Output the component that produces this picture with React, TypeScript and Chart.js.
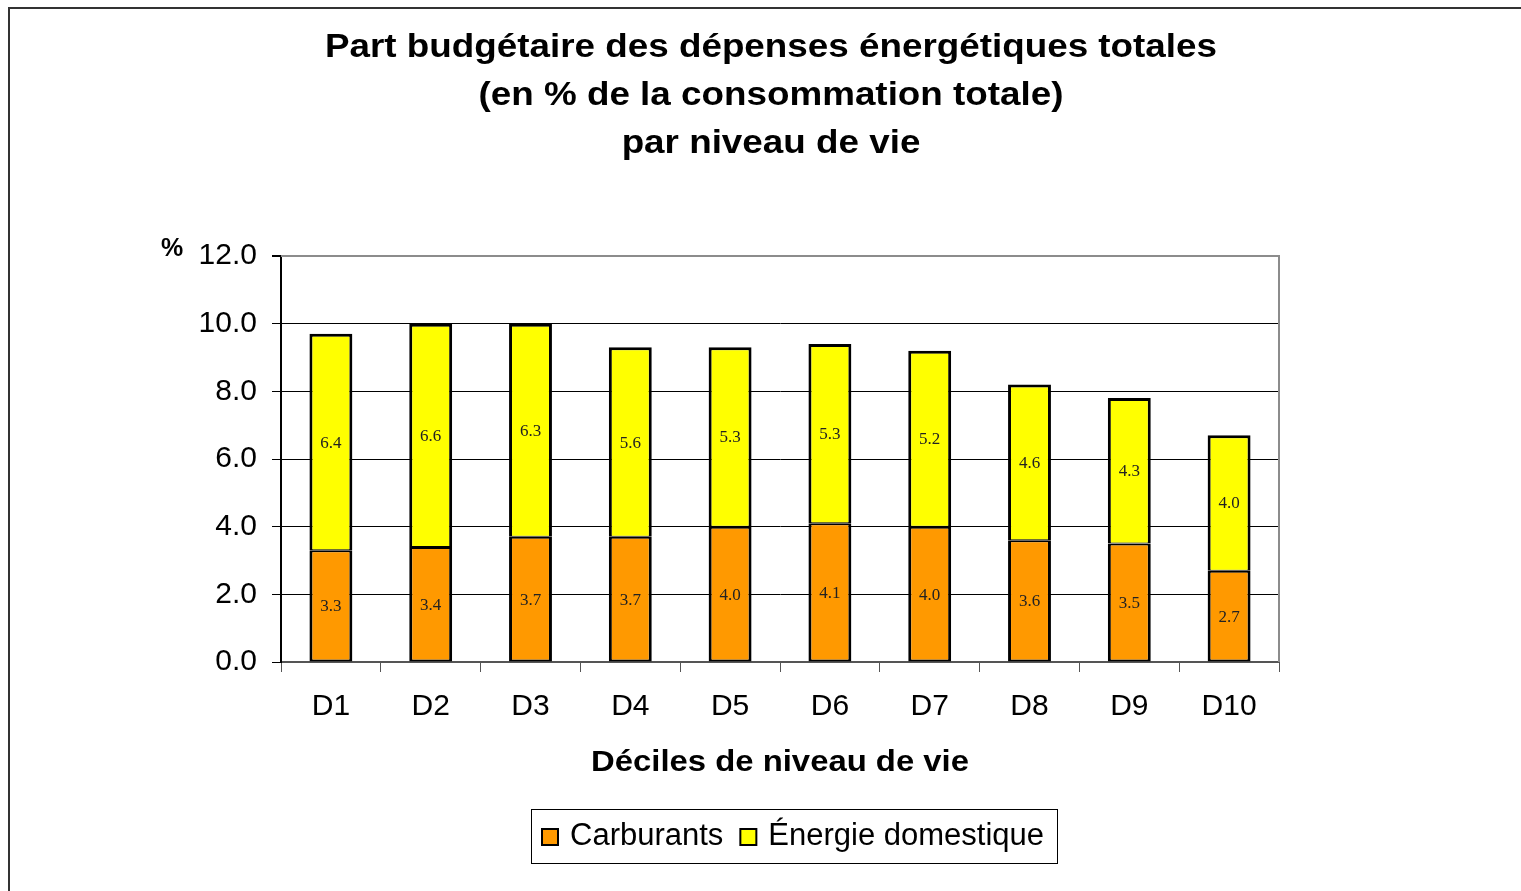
import React, { useEffect, useRef } from "react";
import { Chart, registerables } from "chart.js";

Chart.register(...registerables);

const categories = ["D1", "D2", "D3", "D4", "D5", "D6", "D7", "D8", "D9", "D10"];
const carburants = [3.3, 3.4, 3.7, 3.7, 4.0, 4.1, 4.0, 3.6, 3.5, 2.7];
const energieDomestique = [6.4, 6.6, 6.3, 5.6, 5.3, 5.3, 5.2, 4.6, 4.3, 4.0];
const seriesLabels = ["Carburants", "Énergie domestique"];
const seriesColors = ["#FF9900", "#FFFF00"];
const titleLines = [
  "Part budgétaire des dépenses énergétiques totales",
  "(en % de la consommation totale)",
  "par niveau de vie",
];
const xAxisTitle = "Déciles de niveau de vie";
const yUnit = "%";

const SANS = "'Liberation Sans', Arial, sans-serif";
const SERIF = "'Liberation Serif', 'Times New Roman', serif";

function drawStretched(ctx: any, text: string, cx: number, cy: number, sx: number) {
  ctx.save();
  ctx.translate(cx, cy);
  ctx.scale(sx, 1);
  ctx.textAlign = "center";
  ctx.textBaseline = "middle";
  ctx.fillText(text, 0, 0);
  ctx.restore();
}

const decorPlugin = {
  id: "decor",
  beforeDatasetsDraw(chart: any) {
    const { ctx, chartArea: a } = chart;
    ctx.save();
    ctx.strokeStyle = "#8c8c8c";
    ctx.lineWidth = 2;
    ctx.beginPath();
    ctx.moveTo(a.left, a.top);
    ctx.lineTo(a.right, a.top);
    ctx.lineTo(a.right, a.bottom);
    ctx.stroke();
    ctx.restore();
  },
  afterDraw(chart: any) {
    const { ctx, chartArea: a } = chart;
    ctx.save();
    // outer frame
    ctx.strokeStyle = "#333";
    ctx.lineWidth = 2;
    ctx.beginPath();
    ctx.moveTo(9, chart.height + 10);
    ctx.lineTo(9, 8);
    ctx.lineTo(chart.width + 10, 8);
    ctx.stroke();

    // title
    ctx.fillStyle = "#000";
    ctx.font = `bold 33px ${SANS}`;
    const w0 = ctx.measureText(titleLines[0]).width;
    const sxT = 892 / w0;
    titleLines.forEach((t, i) => drawStretched(ctx, t, 771, 48 + i * 48, sxT));

    // x axis title
    ctx.font = `bold 29px ${SANS}`;
    const wx = ctx.measureText(xAxisTitle).width;
    drawStretched(ctx, xAxisTitle, (a.left + a.right) / 2, 763, 378 / wx);

    // % unit
    ctx.font = `bold 25px ${SANS}`;
    ctx.textAlign = "left";
    ctx.textBaseline = "middle";
    ctx.fillText(yUnit, 161, 249);

    // data labels
    ctx.font = `17px ${SERIF}`;
    ctx.textAlign = "center";
    ctx.textBaseline = "middle";
    chart.data.datasets.forEach((ds: any, di: number) => {
      const meta = chart.getDatasetMeta(di);
      meta.data.forEach((el: any, j: number) => {
        const v = ds.data[j];
        const cy = (el.y + el.base) / 2 + 1;
        ctx.fillStyle = "#222";
        ctx.fillText(v.toFixed(1), el.x, cy);
      });
    });

    // legend
    ctx.font = `31px ${SANS}`;
    const sw = 16;
    const gapSwText = 12;
    const gapItems = 17;
    const padL = 11;
    const padR = 13;
    const widths = chart.data.datasets.map((ds: any) => ctx.measureText(ds.label).width);
    const content =
      widths.reduce((s: number, w: number) => s + sw + gapSwText + w, 0) + gapItems * (widths.length - 1);
    const boxW = Math.round(padL + content + padR);
    const cx = 794;
    const boxL = Math.round(cx - boxW / 2);
    const boxT = 809;
    const boxH = 54;
    ctx.strokeStyle = "#000";
    ctx.lineWidth = 1;
    ctx.strokeRect(boxL + 0.5, boxT + 0.5, boxW, boxH);
    let x = boxL + padL;
    const cyL = boxT + boxH / 2;
    chart.data.datasets.forEach((ds: any, i: number) => {
      ctx.fillStyle = ds.backgroundColor;
      ctx.fillRect(x, cyL - sw / 2 + 1, sw, sw);
      ctx.lineWidth = 2;
      ctx.strokeStyle = "#000";
      ctx.strokeRect(x, cyL - sw / 2 + 1, sw, sw);
      ctx.fillStyle = "#000";
      ctx.textAlign = "left";
      ctx.textBaseline = "middle";
      ctx.fillText(ds.label, x + sw + gapSwText, cyL);
      x += sw + gapSwText + widths[i] + gapItems;
    });
    ctx.restore();
  },
};

export default function App() {
  const ref = useRef<HTMLCanvasElement | null>(null);
  useEffect(() => {
    document.body.style.margin = "0";
    const canvas = ref.current!;
    const chart = new Chart(canvas, {
      type: "bar",
      data: {
        labels: categories,
        datasets: [
          {
            label: seriesLabels[0],
            data: carburants,
            backgroundColor: seriesColors[0],
            borderColor: "#000",
            borderWidth: { left: 3, right: 3, top: 2, bottom: 2 },
            borderSkipped: false,
            inflateAmount: 0,
            barPercentage: 0.43,
            categoryPercentage: 1,
          },
          {
            label: seriesLabels[1],
            data: energieDomestique,
            backgroundColor: seriesColors[1],
            borderColor: "#000",
            borderWidth: { left: 3, right: 3, top: 3, bottom: 1 },
            borderSkipped: false,
            inflateAmount: 0,
            barPercentage: 0.43,
            categoryPercentage: 1,
          },
        ],
      },
      options: {
        animation: false,
        responsive: false,
        maintainAspectRatio: false,
        layout: { padding: { left: 0, top: 256, right: 242, bottom: 0 } },
        plugins: {
          legend: { display: false },
          title: { display: false },
          tooltip: { enabled: false },
        },
        scales: {
          x: {
            stacked: true,
            grid: {
              offset: true,
              drawOnChartArea: false,
              drawTicks: true,
              tickLength: 10,
              color: "#555",
            },
            border: { display: true, color: "#555", width: 2 },
            ticks: {
              color: "#000",
              font: { family: SANS, size: 30 },
              padding: 17,
              maxRotation: 0,
            },
            afterFit(scale: any) {
              scale.height = 891 - 662;
            },
          },
          y: {
            stacked: true,
            min: 0,
            max: 12,
            ticks: {
              stepSize: 2,
              color: "#000",
              font: { family: SANS, size: 30 },
              padding: 15,
              callback: (v: any) => Number(v).toFixed(1),
            },
            grid: {
              color: (c: any) => (c.tick && c.tick.value === 12 ? "#8c8c8c" : "#000"),
              lineWidth: (c: any) => (c.tick && c.tick.value === 12 ? 2 : 1),
              tickColor: "#000",
              tickLength: 9,
            },
            border: { display: true, color: "#000", width: 2 },
            afterFit(scale: any) {
              scale.width = 281;
            },
          },
        },
      },
      plugins: [decorPlugin],
    });
    return () => chart.destroy();
  }, []);
  return (
    <canvas
      ref={ref}
      width={1521}
      height={891}
      style={{ position: "fixed", left: 0, top: 0, width: 1521, height: 891, display: "block" }}
    />
  );
}
